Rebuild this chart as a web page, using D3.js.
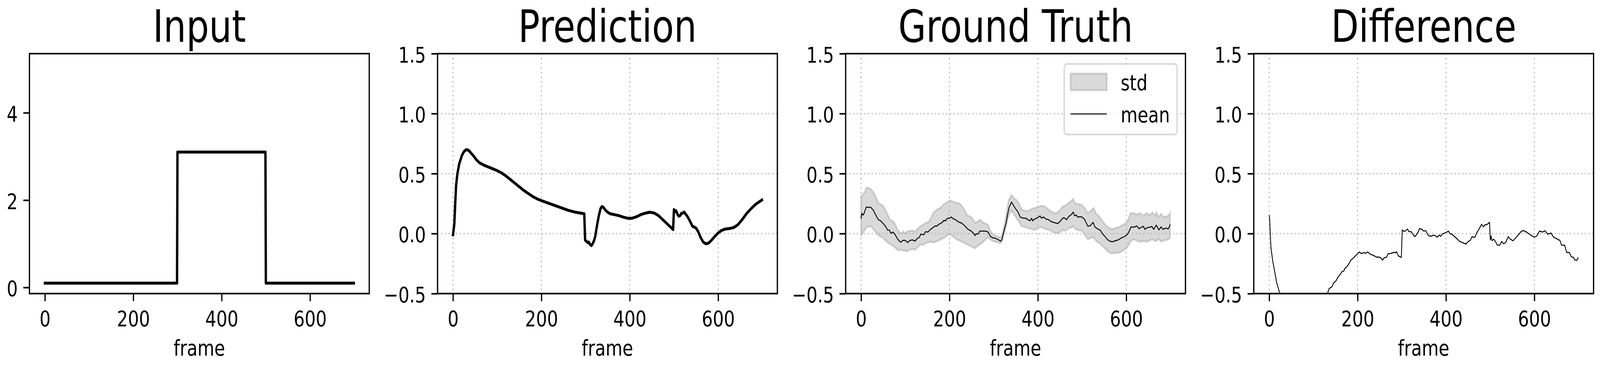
<!DOCTYPE html>
<html>
<head>
<meta charset="utf-8">
<script src="https://cdn.jsdelivr.net/npm/d3@7"></script>
<style>
  html, body { margin: 0; padding: 0; background: #fff; overflow: hidden; }
  svg text { font-family: "DejaVu Sans", sans-serif; fill: #000; }
</style>
</head>
<body>
<div id="chart"></div>
<script>
// ---- data ----
const titles = ["Input", "Prediction", "Ground Truth", "Difference"];
const frameTicks = [0, 200, 400, 600];
const inputTicks = [0, 2, 4];
const valueTicks = [-0.5, 0, 0.5, 1.0, 1.5];

const inputFrames = [0, 299, 300, 499, 500, 699];
const inputValues = [0.1, 0.1, 3.1, 3.1, 0.1, 0.1];

const predFrames = [0, 3, 5, 7, 10, 14, 20, 25, 30, 35, 40, 47, 53, 60, 70, 80, 90, 100, 110, 120,
  130, 140, 150, 160, 170, 180, 190, 200, 215, 230, 245, 260, 275, 290, 297, 299, 302, 305, 307, 310,
  313, 316, 319, 322, 326, 330, 334, 337, 340, 345, 350, 356, 365, 375, 385, 395, 405, 415, 425, 435,
  445, 455, 465, 475, 485, 495, 498, 500, 503, 505, 508, 511, 514, 517, 520, 523, 526, 530, 534, 538,
  542, 546, 550, 555, 560, 566, 572, 578, 585, 592, 600, 607, 615, 625, 635, 645, 655, 665, 675, 685,
  695, 699];
const predValues = [-0.01, 0.08, 0.25, 0.40, 0.50, 0.58, 0.65, 0.685, 0.70, 0.695, 0.675, 0.645, 0.615, 0.59, 0.57, 0.555, 0.54, 0.525, 0.505, 0.48,
  0.45, 0.42, 0.39, 0.36, 0.335, 0.31, 0.29, 0.275, 0.255, 0.235, 0.215, 0.195, 0.18, 0.17, 0.165, -0.055, -0.065, -0.075, -0.07, -0.09,
  -0.1, -0.085, -0.06, -0.02, 0.07, 0.15, 0.21, 0.225, 0.22, 0.195, 0.178, 0.165, 0.158, 0.15, 0.138, 0.128, 0.128, 0.14, 0.158, 0.17,
  0.178, 0.172, 0.15, 0.115, 0.08, 0.045, 0.033, 0.2, 0.185, 0.19, 0.16, 0.145, 0.15, 0.17, 0.17, 0.18, 0.165, 0.145, 0.12, 0.09,
  0.06, 0.055, 0.045, 0.015, -0.03, -0.07, -0.085, -0.08, -0.055, -0.025, 0.005, 0.025, 0.037, 0.042, 0.05, 0.075, 0.12, 0.17, 0.21, 0.245,
  0.27, 0.28];

const meanFrames = [0, 1.6, 4.4, 7, 11.5, 16, 22, 28, 34, 39, 44, 50, 56, 60, 64, 67.5, 72, 77, 82, 86.5,
  90, 94, 98, 102, 105.5, 110, 116, 122, 127, 132, 135, 142, 146, 151, 157, 163, 166, 171, 176, 182,
  188, 191, 195, 200, 204, 208, 213, 217, 222, 227, 232, 238, 242, 248, 253, 258, 260, 265, 268.5, 276,
  281.5, 287.5, 292, 298, 303, 308, 312.5, 316, 318.5, 323, 328, 331.5, 335, 340.5, 344.6, 349.4, 355, 360, 363.7, 368,
  374, 377, 382, 386, 388, 393, 399, 405, 408, 413, 418, 424, 430, 437, 445, 451, 457, 461, 465, 470,
  476, 480, 483, 487, 490, 495, 500, 506, 513, 519, 525, 529, 537, 541, 546, 552, 558, 564, 569, 575,
  582, 589, 596, 601, 605, 611, 617, 624, 629, 634, 639, 642, 648, 653, 658, 662, 668, 674, 679, 683,
  689, 695, 697, 699];
const meanValues = [0.129, 0.17, 0.154, 0.17, 0.221, 0.219, 0.219, 0.192, 0.149, 0.116, 0.107, 0.084, 0.056, 0.029, 0.029, 0.002, 0.013, -0.009, -0.041, -0.063,
  -0.071, -0.058, -0.055, -0.063, -0.074, -0.058, -0.052, -0.063, -0.041, -0.030, -0.005, -0.009, 0.016, 0.013, 0.035, 0.051, 0.062, 0.062, 0.078, 0.089,
  0.111, 0.105, 0.127, 0.129, 0.138, 0.125, 0.116, 0.107, 0.094, 0.089, 0.073, 0.051, 0.035, 0.024, 0.008, -0.016, -0.003, -0.003, 0.021, 0.021,
  0.021, 0.013, -0.020, -0.036, -0.038, -0.047, -0.055, -0.063, -0.052, 0.018, 0.084, 0.160, 0.219, 0.263, 0.236, 0.208, 0.181, 0.138, 0.132, 0.129,
  0.127, 0.116, 0.107, 0.127, 0.107, 0.122, 0.132, 0.147, 0.129, 0.138, 0.122, 0.116, 0.100, 0.092, 0.084, 0.105, 0.132, 0.129, 0.116, 0.143,
  0.160, 0.179, 0.149, 0.154, 0.138, 0.140, 0.138, 0.116, 0.062, 0.067, 0.094, 0.056, 0.035, 0.029, -0.001, -0.025, -0.052, -0.065, -0.068, -0.060,
  -0.052, -0.036, -0.025, -0.012, 0.008, 0.056, 0.053, 0.064, 0.040, 0.053, 0.060, 0.035, 0.051, 0.053, 0.060, 0.035, 0.071, 0.031, 0.056, 0.035,
  0.046, 0.040, 0.053, 0.073];

const stdFrames = [0, 3, 8, 12, 16, 22, 28, 34, 39, 45, 50, 56, 62, 67, 72, 77, 82, 87, 91, 95,
  99, 104, 110, 116, 122, 128, 134, 140, 146, 152, 158, 163, 169, 175, 181, 187, 193, 199, 204, 210,
  216, 222, 228, 234, 240, 246, 252, 258, 264, 269, 275, 281, 287, 292, 298, 304, 310, 316, 320, 325,
  330, 334, 340, 346, 352, 357, 363, 370, 377, 385, 392, 399, 406, 413, 420, 427, 434, 442, 449, 456,
  463, 470, 476, 480, 484, 491, 499, 506, 513, 520, 526, 532, 539, 546, 553, 560, 568, 575, 582, 589,
  596, 603, 610, 617, 624, 631, 639, 646, 653, 659, 665, 668, 673, 679, 684, 691, 696, 699];
const stdUpper = [0.317, 0.322, 0.344, 0.382, 0.382, 0.371, 0.344, 0.301, 0.257, 0.241, 0.230, 0.192, 0.143, 0.111, 0.105, 0.078, 0.035, 0.013, 0.0, 0.018,
  0.002, 0.016, 0.024, 0.024, 0.018, 0.040, 0.062, 0.073, 0.089, 0.094, 0.127, 0.170, 0.192, 0.208, 0.219, 0.246, 0.257, 0.274, 0.274, 0.263,
  0.257, 0.252, 0.230, 0.198, 0.154, 0.143, 0.127, 0.089, 0.100, 0.116, 0.094, 0.084, 0.073, 0.024, -0.003, -0.020, -0.025, -0.036, 0.008, 0.084,
  0.192, 0.279, 0.322, 0.295, 0.279, 0.252, 0.203, 0.192, 0.187, 0.203, 0.214, 0.219, 0.230, 0.230, 0.214, 0.192, 0.176, 0.170, 0.192, 0.225,
  0.236, 0.257, 0.274, 0.290, 0.252, 0.246, 0.241, 0.214, 0.170, 0.192, 0.214, 0.165, 0.143, 0.105, 0.073, 0.051, 0.035, 0.046, 0.051, 0.067,
  0.078, 0.105, 0.170, 0.170, 0.160, 0.170, 0.149, 0.170, 0.154, 0.176, 0.149, 0.176, 0.138, 0.165, 0.138, 0.143, 0.149, 0.170];
const stdLower = [-0.014, -0.003, 0.029, 0.051, 0.056, 0.062, 0.035, 0.008, -0.014, -0.025, -0.036, -0.063, -0.079, -0.090, -0.101, -0.117, -0.134, -0.139, -0.134, -0.144,
  -0.139, -0.150, -0.134, -0.131, -0.134, -0.117, -0.090, -0.096, -0.079, -0.074, -0.068, -0.074, -0.068, -0.058, -0.047, -0.036, -0.020, -0.003, -0.014, -0.030,
  -0.047, -0.058, -0.068, -0.079, -0.090, -0.101, -0.112, -0.123, -0.101, -0.090, -0.074, -0.052, -0.030, -0.047, -0.063, -0.068, -0.074, -0.079, -0.047, 0.018,
  0.094, 0.149, 0.192, 0.160, 0.127, 0.100, 0.062, 0.056, 0.046, 0.040, 0.029, 0.046, 0.056, 0.046, 0.035, 0.029, 0.013, 0.002, 0.008, 0.029,
  0.024, 0.046, 0.050, 0.062, 0.040, 0.029, 0.024, -0.009, -0.047, -0.036, -0.030, -0.063, -0.079, -0.101, -0.128, -0.155, -0.166, -0.161, -0.161, -0.150,
  -0.134, -0.112, -0.063, -0.047, -0.058, -0.068, -0.063, -0.068, -0.058, -0.047, -0.060, -0.063, -0.041, -0.068, -0.058, -0.052, -0.047, -0.036];

const diffFrames = [0, 1, 2.3, 4, 8, 12, 17, 24, 35, 60, 90, 115, 132, 135.5, 142, 146, 151, 156, 161, 165,
  169, 171, 175, 180, 185, 189, 193, 198, 204, 209, 213, 218, 223, 228.5, 234, 239, 242.5, 249, 254, 256.5,
  260, 265.5, 269, 274, 279.5, 282, 286, 288, 292, 296, 299, 301, 305, 309, 313, 316, 321.5, 326.5, 330, 334,
  337, 340, 346, 349.5, 354.5, 360, 366, 371, 376, 380, 385, 388, 391.5, 397, 402, 405.5, 409, 413, 419.5, 426,
  431, 437.5, 445, 450, 455, 459, 463, 465.5, 470.5, 475.5, 480.5, 484.5, 488.5, 492, 498.5, 500.3, 502, 504, 508, 511.5,
  516, 522, 526, 530.5, 535, 541, 545, 552, 558, 564, 571, 576, 582, 588, 593.5, 600, 605.5, 611.5, 618.5, 624,
  630.5, 637.5, 643.5, 649.5, 658, 661.5, 668.5, 673, 679, 683.5, 689, 691, 696, 699];
const diffValues = [0.15, 0.12, 0.0, -0.12, -0.23, -0.31, -0.41, -0.5, -0.57, -0.63, -0.64, -0.58, -0.497, -0.459, -0.443, -0.41, -0.394, -0.361, -0.339, -0.316,
  -0.312, -0.291, -0.28, -0.253, -0.22, -0.209, -0.193, -0.175, -0.153, -0.168, -0.158, -0.164, -0.153, -0.171, -0.179, -0.188, -0.196, -0.196, -0.207, -0.222,
  -0.201, -0.198, -0.168, -0.166, -0.161, -0.155, -0.161, -0.15, -0.185, -0.193, -0.198, 0.031, 0.018, 0.024, 0.038, 0.016, 0.016, -0.014, -0.025, -0.003,
  0.013, 0.042, 0.035, 0.021, 0.024, -0.016, -0.023, -0.014, -0.017, -0.03, -0.012, -0.023, -0.003, 0.005, 0.013, 0.021, -0.001, -0.003, -0.025, -0.047,
  -0.066, -0.074, -0.088, -0.066, -0.057, -0.025, -0.03, -0.03, 0.013, 0.042, 0.078, 0.056, 0.075, 0.073, 0.094, -0.052, -0.02, -0.058, -0.047, -0.063,
  -0.096, -0.096, -0.066, -0.085, -0.074, -0.025, -0.045, -0.06, -0.034, -0.009, 0.021, 0.024, 0.013, -0.003, -0.016, -0.03, -0.02, 0.021, 0.013, 0.024,
  -0.005, 0.005, -0.03, -0.041, -0.058, -0.096, -0.096, -0.157, -0.157, -0.193, -0.199, -0.218, -0.223, -0.202];

// ---- layout (in reference pixels, scaled to the window by the viewBox) ----
const width = 5074, height = 942;
const axTop = 137.3, axBottom = 751.5, axWidth = 1077.6;
const axLeft = i => 93.4 + i * 1294.2;
const frameDomain = [-34.95, 733.95];
const tickFont = 55, titleFont = 114;

const svg = d3.select("#chart").append("svg")
  .attr("viewBox", `0 0 ${width} ${height}`)
  .attr("preserveAspectRatio", "none")
  .style("width", "100vw")
  .style("height", "100vh")
  .style("display", "block")
  .style("background", "#fff");

const zip = (xs, ys) => xs.map((f, k) => [f, ys[k]]);

const drawPanel = (i, yDomain, yTicks, yFormat, withGrid) => {
  const left = axLeft(i), right = left + axWidth;
  const x = d3.scaleLinear().domain(frameDomain).range([left, right]);
  const y = d3.scaleLinear().domain(yDomain).range([axBottom, axTop]);
  const g = svg.append("g");

  svg.append("clipPath").attr("id", `clip${i}`)
    .append("rect")
    .attr("x", left).attr("y", axTop)
    .attr("width", axWidth).attr("height", axBottom - axTop);

  const bandLayer = g.append("g").attr("clip-path", `url(#clip${i})`);
  const gridLayer = g.append("g");
  const lineLayer = g.append("g").attr("clip-path", `url(#clip${i})`);

  if (withGrid) {
    gridLayer.selectAll(".vgrid")
      .data(frameTicks)
      .enter().append("line")
      .attr("x1", d => x(d)).attr("x2", d => x(d))
      .attr("y1", axTop).attr("y2", axBottom);
    gridLayer.selectAll(".hgrid")
      .data(yTicks)
      .enter().append("line")
      .attr("x1", left).attr("x2", right)
      .attr("y1", d => y(d)).attr("y2", d => y(d));
    gridLayer.selectAll("line")
      .attr("stroke", "#b0b0b0")
      .attr("stroke-width", 3.3)
      .attr("stroke-dasharray", "3.3 8.5");
  }

  // x axis
  g.append("g")
    .attr("transform", `translate(0,${axBottom})`)
    .call(d3.axisBottom(x).tickValues(frameTicks).tickSize(19.5).tickFormat(d3.format("d")))
    .attr("font-size", tickFont)
    .attr("font-family", "DejaVu Sans")
    .call(a => a.select(".domain").remove())
    .call(a => a.selectAll("line").attr("stroke", "#000").attr("stroke-width", 4))
    .call(a => a.selectAll("text").attr("y", 83.5).attr("dy", null));

  // y axis
  g.append("g")
    .attr("transform", `translate(${left},0)`)
    .call(d3.axisLeft(y).tickValues(yTicks).tickSize(19.5).tickFormat(yFormat))
    .attr("font-size", tickFont)
    .attr("font-family", "DejaVu Sans")
    .call(a => a.select(".domain").remove())
    .call(a => a.selectAll("line").attr("stroke", "#000").attr("stroke-width", 4))
    .call(a => a.selectAll("text").attr("x", -37).attr("dy", 22));

  // title and label
  g.append("text")
    .attr("x", (left + right) / 2).attr("y", 107)
    .attr("text-anchor", "middle")
    .attr("font-size", titleFont)
    .text(titles[i]);
  g.append("text")
    .attr("x", (left + right) / 2).attr("y", 910)
    .attr("text-anchor", "middle")
    .attr("font-size", tickFont)
    .text("frame");

  const frame = g.append("rect")
    .attr("x", left).attr("y", axTop)
    .attr("width", axWidth).attr("height", axBottom - axTop)
    .attr("fill", "none")
    .attr("stroke", "#000")
    .attr("stroke-width", 4);

  return { x, y, g, bandLayer, lineLayer, frame };
};

const valueFormat = d3.format(".1f");

const addLine = (p, pts, w) => {
  const line = d3.line().x(d => p.x(d[0])).y(d => p.y(d[1]));
  p.lineLayer.append("path")
    .datum(pts)
    .attr("d", line)
    .attr("fill", "none")
    .attr("stroke", "#000")
    .attr("stroke-width", w)
    .attr("stroke-linejoin", "round")
    .attr("stroke-linecap", "square");
};

// Input
const p0 = drawPanel(0, [-0.14, 5.355], inputTicks, d3.format("d"), false);
addLine(p0, zip(inputFrames, inputValues), 7.5);

// Prediction
const p1 = drawPanel(1, [-0.5, 1.5], valueTicks, valueFormat, true);
addLine(p1, zip(predFrames, predValues), 7.5);

// Ground truth
const p2 = drawPanel(2, [-0.5, 1.5], valueTicks, valueFormat, true);
const band = stdFrames.map((f, k) => ({ f, lo: stdLower[k], hi: stdUpper[k] }));
p2.bandLayer.append("path")
  .datum(band)
  .attr("d", d3.area().x(d => p2.x(d.f)).y0(d => p2.y(d.lo)).y1(d => p2.y(d.hi)))
  .attr("fill", "rgba(128,128,128,0.3)")
  .attr("stroke", "rgba(128,128,128,0.3)")
  .attr("stroke-width", 5);
addLine(p2, zip(meanFrames, meanValues), 2.6);

// legend
const legRight = axLeft(2) + axWidth - 26.5, legTop = axTop + 26.5;
const leg = p2.g.append("g");
leg.append("rect")
  .attr("x", legRight - 358).attr("y", legTop)
  .attr("width", 358).attr("height", 180.5)
  .attr("rx", 9)
  .attr("fill", "rgba(255,255,255,0.8)")
  .attr("stroke", "rgba(204,204,204,0.8)")
  .attr("stroke-width", 4);
leg.append("rect")
  .attr("x", legRight - 338).attr("y", legTop + 24.5)
  .attr("width", 115).attr("height", 42.5)
  .attr("fill", "rgba(128,128,128,0.3)")
  .attr("stroke", "rgba(128,128,128,0.3)")
  .attr("stroke-width", 5);
leg.append("line")
  .attr("x1", legRight - 338).attr("x2", legRight - 223)
  .attr("y1", legTop + 128).attr("y2", legTop + 128)
  .attr("stroke", "#000").attr("stroke-width", 2.6);
leg.selectAll(".legtext")
  .data([["std", 67], ["mean", 149]])
  .enter().append("text")
  .attr("x", legRight - 179)
  .attr("y", d => legTop + d[1])
  .attr("font-size", tickFont)
  .text(d => d[0]);
p2.frame.raise();

// Difference
const p3 = drawPanel(3, [-0.5, 1.5], valueTicks, valueFormat, true);
addLine(p3, zip(diffFrames, diffValues), 2.6);
</script>
</body>
</html>
